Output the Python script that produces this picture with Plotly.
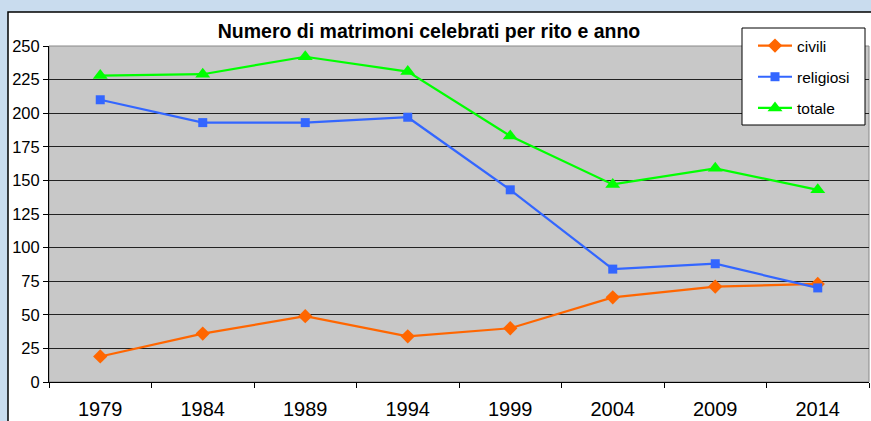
import plotly.graph_objects as go

years = ["1979", "1984", "1989", "1994", "1999", "2004", "2009", "2014"]
civili = [19, 36, 49, 34, 40, 63, 71, 73]
religiosi = [210, 193, 193, 197, 143, 84, 88, 70]
totale = [228, 229, 242, 231, 183, 147, 159, 143]
y_ticks = [0, 25, 50, 75, 100, 125, 150, 175, 200, 225, 250]

W, H = 871, 421
ML, MR, MT, MB = 49, 2, 46, 39
pw = W - ML - MR
ph = H - MT - MB

def px_x(p):
    return (p - ML) / pw

def px_y(p):
    return (H - MB - p) / ph

fig = go.Figure()

series = [
    ("civili", civili, "#FF6600", "diamond", 11),
    ("religiosi", religiosi, "#3366FF", "square", 9),
    ("totale", totale, "#00FF00", "triangle-up", 13),
]
for name, vals, col, sym, sz in series:
    fig.add_trace(go.Scatter(
        x=years, y=vals, name=name, mode="lines+markers",
        line=dict(color=col, width=2.2),
        marker=dict(symbol=sym, size=sz, color=col),
        legendgroup=name,
    ))

shapes = [
    # white chart area
    dict(type="rect", xref="paper", yref="paper", layer="below",
         x0=px_x(8), x1=px_x(880), y0=px_y(440), y1=px_y(12),
         fillcolor="white", line=dict(color="black", width=1.5)),
    # gray plot area
    dict(type="rect", xref="paper", yref="paper", layer="below",
         x0=0, x1=1, y0=0, y1=1,
         fillcolor="#C8C8C8", line=dict(color="#888888", width=1)),
    # legend box
    dict(type="rect", xref="paper", yref="paper", layer="above",
         x0=px_x(742), x1=px_x(865), y0=px_y(125), y1=px_y(28),
         fillcolor="white", line=dict(color="black", width=1)),
]

fig.update_layout(
    width=W, height=H,
    margin=dict(l=ML, r=MR, t=MT, b=MB, autoexpand=False),
    paper_bgcolor="#C9DCEE",
    plot_bgcolor="rgba(0,0,0,0)",
    font=dict(family="Liberation Sans, Arial, sans-serif", color="black"),
    title=dict(text="<b>Numero di matrimoni celebrati per rito e anno</b>",
               xref="container", yref="container",
               x=429 / W, xanchor="center", y=1 - 31 / H, yanchor="middle",
               font=dict(size=19.5, color="black")),
    shapes=shapes,
    showlegend=True,
    legend=dict(xref="container", yref="container",
                x=753 / W, y=1 - 29 / H, xanchor="left", yanchor="top",
                bgcolor="rgba(0,0,0,0)", borderwidth=0,
                font=dict(size=15.5), tracegroupgap=8, itemwidth=34),
    xaxis=dict(type="category", range=[-0.5, 7.5], tickson="boundaries",
               ticks="outside", ticklen=5, tickcolor="black",
               showline=True, linecolor="black", linewidth=1, automargin=False,
               showgrid=False, tickfont=dict(size=20), ticklabelstandoff=9),
    yaxis=dict(range=[0, 250], tickvals=y_ticks, ticks="outside", ticklen=5,
               tickcolor="black", showline=True, linecolor="black", linewidth=1,
               showgrid=True, gridcolor="#222222", gridwidth=1, automargin=False,
               tickfont=dict(size=16.5), zeroline=False),
)

fig.write_html(
    "out.html",
    config={"displayModeBar": False},
    post_script="document.body.style.margin='0';document.body.style.overflow='hidden';",
)
